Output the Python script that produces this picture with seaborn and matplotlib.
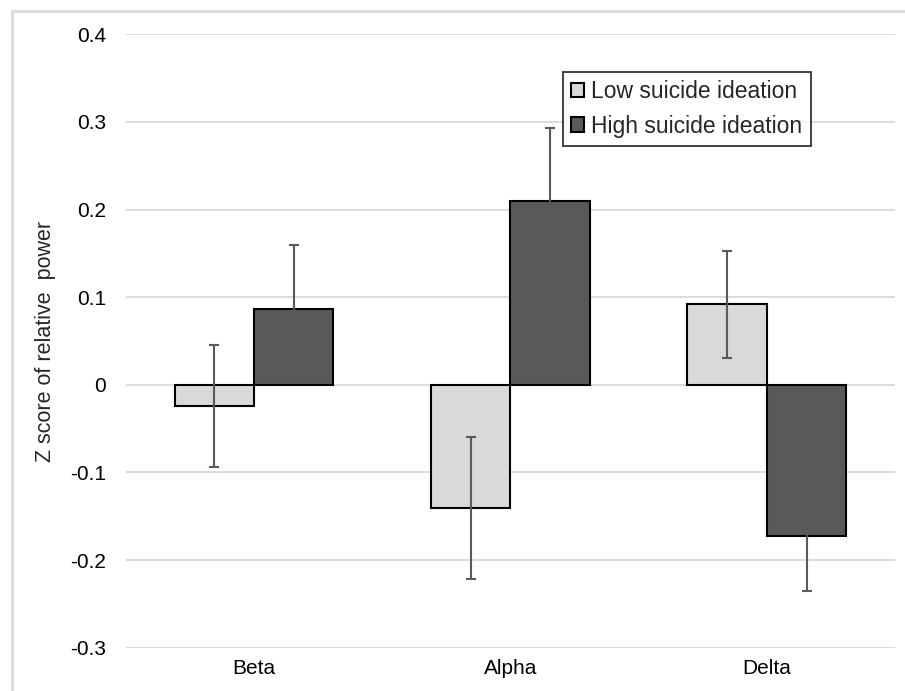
import matplotlib
matplotlib.use("Agg")
import matplotlib.pyplot as plt
import seaborn as sns
import pandas as pd
from matplotlib.patches import Rectangle

categories = ["Beta", "Alpha", "Delta"]
groups = ["Low suicide ideation", "High suicide ideation"]
low_values = [-0.024, -0.141, 0.092]
high_values = [0.087, 0.210, -0.173]
low_errors = [0.070, 0.081, 0.061]
high_errors = [0.072, 0.083, 0.062]
yticks = [-0.3, -0.2, -0.1, 0, 0.1, 0.2, 0.3, 0.4]
ytick_labels = ["-0.3", "-0.2", "-0.1", "0", "0.1", "0.2", "0.3", "0.4"]

df = pd.DataFrame({
    "band": categories * 2,
    "group": [groups[0]] * 3 + [groups[1]] * 3,
    "value": low_values + high_values,
})

sns.set_theme(style="white")
plt.rcParams["font.family"] = ["Liberation Sans", "DejaVu Sans"]

fig = plt.figure(figsize=(9.05, 6.91), dpi=100)
ax = fig.add_axes([0.139, 0.0625, 0.85, 0.888])

palette = {groups[0]: "#D9D9D9", groups[1]: "#595959"}
sns.barplot(data=df, x="band", y="value", hue="group", order=categories,
            hue_order=groups, palette=palette, width=0.62, errorbar=None,
            edgecolor="black", linewidth=1.5, saturation=1, ax=ax, zorder=2)

for cont, errs in zip(ax.containers, [low_errors, high_errors]):
    for bar, e in zip(cont, errs):
        xc = bar.get_x() + bar.get_width() / 2
        yv = bar.get_y() + bar.get_height() if bar.get_y() == 0 else bar.get_y()
        ax.errorbar([xc], [yv], yerr=[e], fmt="none", ecolor="#595959",
                    elinewidth=1.5, capsize=3.5, capthick=1.5, zorder=3)

ax.set_ylim(-0.3, 0.4)
ax.set_xlim(-0.5, 2.5)
ax.set_yticks(yticks)
ax.set_yticklabels(ytick_labels)
ax.yaxis.grid(True, color="#D9D9D9", linewidth=1.3)
ax.set_axisbelow(True)
for s in ax.spines.values():
    s.set_visible(False)
ax.tick_params(axis="both", length=0, labelsize=15, colors="black")
ax.tick_params(axis="y", pad=14)
ax.tick_params(axis="x", pad=8)
ax.set_xlabel("")
ax.set_ylabel("Z score of relative  power", fontsize=15.5, labelpad=10)

leg = ax.legend(loc="upper left", bbox_to_anchor=(0.568, 0.938), fontsize=16.5,
                frameon=True, fancybox=False, edgecolor="black",
                handlelength=0.6, handleheight=0.6, handletextpad=0.3,
                borderpad=0.35, labelspacing=0.5, borderaxespad=0)
leg.get_frame().set_linewidth(1.3)

fig.patches.append(Rectangle((12 / 905, -0.01), 1.1, 1 - 11 / 691 + 0.01,
                             transform=fig.transFigure, fill=False,
                             edgecolor="#D9D9D9", linewidth=2.0))

fig.savefig("out.png", dpi=100)
